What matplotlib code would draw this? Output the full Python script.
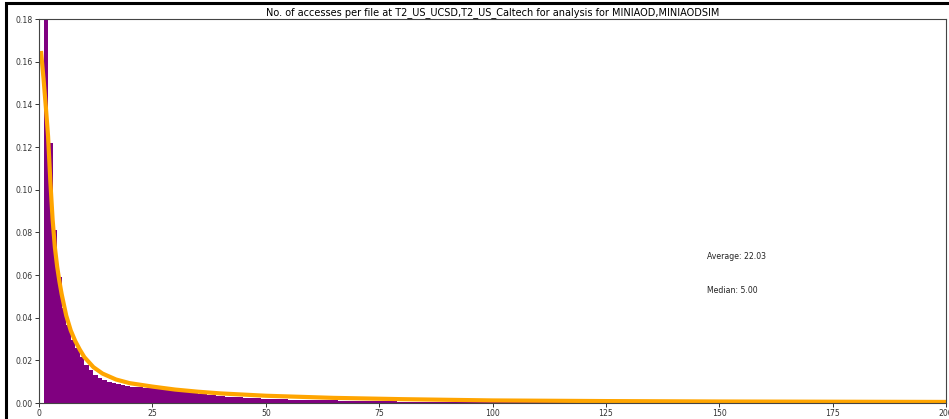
import matplotlib
matplotlib.use("Agg")
import matplotlib.pyplot as plt
from matplotlib.patches import Rectangle

# Fraction of files per number of accesses (bins of width 1, starting at 1)
access_bins = list(range(1, 200))
file_fraction = [
    0.2100, 0.1220, 0.0810, 0.0590, 0.0444, 0.0366, 0.0295, 0.0256, 0.0217, 0.0178,
    0.0155, 0.0131, 0.0116, 0.0107, 0.0099, 0.0093, 0.0088, 0.0084, 0.0080, 0.0077,
    0.0075, 0.0073, 0.0071, 0.0074, 0.0077, 0.0072, 0.0075, 0.0071, 0.0069, 0.0067,
    0.0064, 0.0055, 0.0050, 0.0046, 0.0043, 0.0040, 0.0038, 0.0036, 0.0034, 0.0032,
    0.0030, 0.0029, 0.0028, 0.0027, 0.0025, 0.0024, 0.0023, 0.0022, 0.0021, 0.0020,
    0.0019, 0.0018, 0.0018, 0.0017, 0.0016, 0.0016, 0.0015, 0.0015, 0.0014, 0.0014,
    0.0013, 0.0013, 0.0012, 0.0012, 0.0012, 0.0011, 0.0011, 0.0011, 0.0010, 0.0010,
    0.0010, 0.0009, 0.0009, 0.0009, 0.0009, 0.0008, 0.0008, 0.0008, 0.0007, 0.0007,
    0.0007, 0.0007, 0.0007, 0.0006, 0.0006, 0.0006, 0.0006, 0.0006, 0.0006, 0.0005,
    0.0005, 0.0005, 0.0005, 0.0005, 0.0005, 0.0005, 0.0005, 0.0005, 0.0005, 0.0005,
    0.0004, 0.0004, 0.0004, 0.0004, 0.0004, 0.0004, 0.0004, 0.0004, 0.0004, 0.0004,
    0.0004, 0.0004, 0.0004, 0.0004, 0.0004, 0.0004, 0.0004, 0.0004, 0.0004, 0.0004,
    0.0004, 0.0004, 0.0004, 0.0004, 0.0003, 0.0003, 0.0003, 0.0003, 0.0003, 0.0003,
    0.0003, 0.0003, 0.0003, 0.0003, 0.0003, 0.0003, 0.0003, 0.0003, 0.0003, 0.0003,
    0.0003, 0.0003, 0.0003, 0.0003, 0.0003, 0.0003, 0.0003, 0.0003, 0.0003, 0.0003,
    0.0003, 0.0003, 0.0003, 0.0003, 0.0003, 0.0003, 0.0003, 0.0003, 0.0003, 0.0002,
    0.0002, 0.0002, 0.0002, 0.0002, 0.0002, 0.0002, 0.0002, 0.0002, 0.0002, 0.0002,
    0.0002, 0.0002, 0.0002, 0.0002, 0.0002, 0.0002, 0.0002, 0.0002, 0.0002, 0.0002,
    0.0002, 0.0002, 0.0002, 0.0002, 0.0002, 0.0002, 0.0002, 0.0002, 0.0002, 0.0002,
    0.0002, 0.0002, 0.0002, 0.0002, 0.0002, 0.0002, 0.0002, 0.0002, 0.0002,
]

# Fitted distribution curve
fit_x = [0.44, 1.0, 1.5, 2.0, 2.5, 3.0, 3.5, 4.0, 4.5, 5.0, 6.0, 7.0, 8.0, 9.0, 10, 12,
         14, 17, 20, 25, 30, 35, 40, 50, 65, 80, 100, 125, 150, 175, 200]
fit_y = [0.165, 0.152, 0.139, 0.125, 0.104, 0.086, 0.073, 0.064, 0.057, 0.051, 0.041,
         0.034, 0.029, 0.025, 0.0215, 0.0168, 0.0138, 0.0110, 0.0093, 0.0077, 0.0063,
         0.0053, 0.0045, 0.0034, 0.0024, 0.0018, 0.0012, 0.0009, 0.0007, 0.0006, 0.0005]

average_accesses = 22.03
median_accesses = 5.00
x_ticks = [0, 25, 50, 75, 100, 125, 150, 175, 200]
y_ticks = [0.00, 0.02, 0.04, 0.06, 0.08, 0.10, 0.12, 0.14, 0.16, 0.18]

title = ("No. of accesses per file at T2_US_UCSD,T2_US_Caltech "
         "for analysis for MINIAOD,MINIAODSIM")

fig = plt.figure(figsize=(9.49, 4.19), dpi=100)
fig.patch.set_facecolor("white")

# output cell frame
fig.patches.append(Rectangle((5.5 / 949, -0.1), 1.2, 1.1 - 3.5 / 419,
                             transform=fig.transFigure, fill=False,
                             edgecolor="black", linewidth=2.2, zorder=10))

ax = fig.add_axes([39 / 949, 16 / 419, 907 / 949, 384 / 419])
ax.bar(access_bins, file_fraction, width=1.0, align="edge",
       color="purple", linewidth=0)
ax.plot(fit_x, fit_y, color="orange", linewidth=3.0, solid_capstyle="butt")

ax.set_xlim(0, 200)
ax.set_ylim(0, 0.18)
ax.set_xticks(x_ticks)
ax.set_yticks(y_ticks)
ax.set_yticklabels([f"{v:.2f}" for v in y_ticks])
ax.tick_params(labelsize=5.6, length=3, width=0.7, pad=1.5, colors="#333333")
for s in ax.spines.values():
    s.set_linewidth(0.8)
    s.set_color("#444444")

ax.set_title(title, fontsize=7, pad=2.5)
ax.text(147.2, 0.0675, f"Average: {average_accesses:.2f}", fontsize=5.6,
        color="#222222")
ax.text(147.2, 0.0515, f"Median: {median_accesses:.2f}", fontsize=5.6,
        color="#222222")

fig.savefig("out.png", dpi=100)
